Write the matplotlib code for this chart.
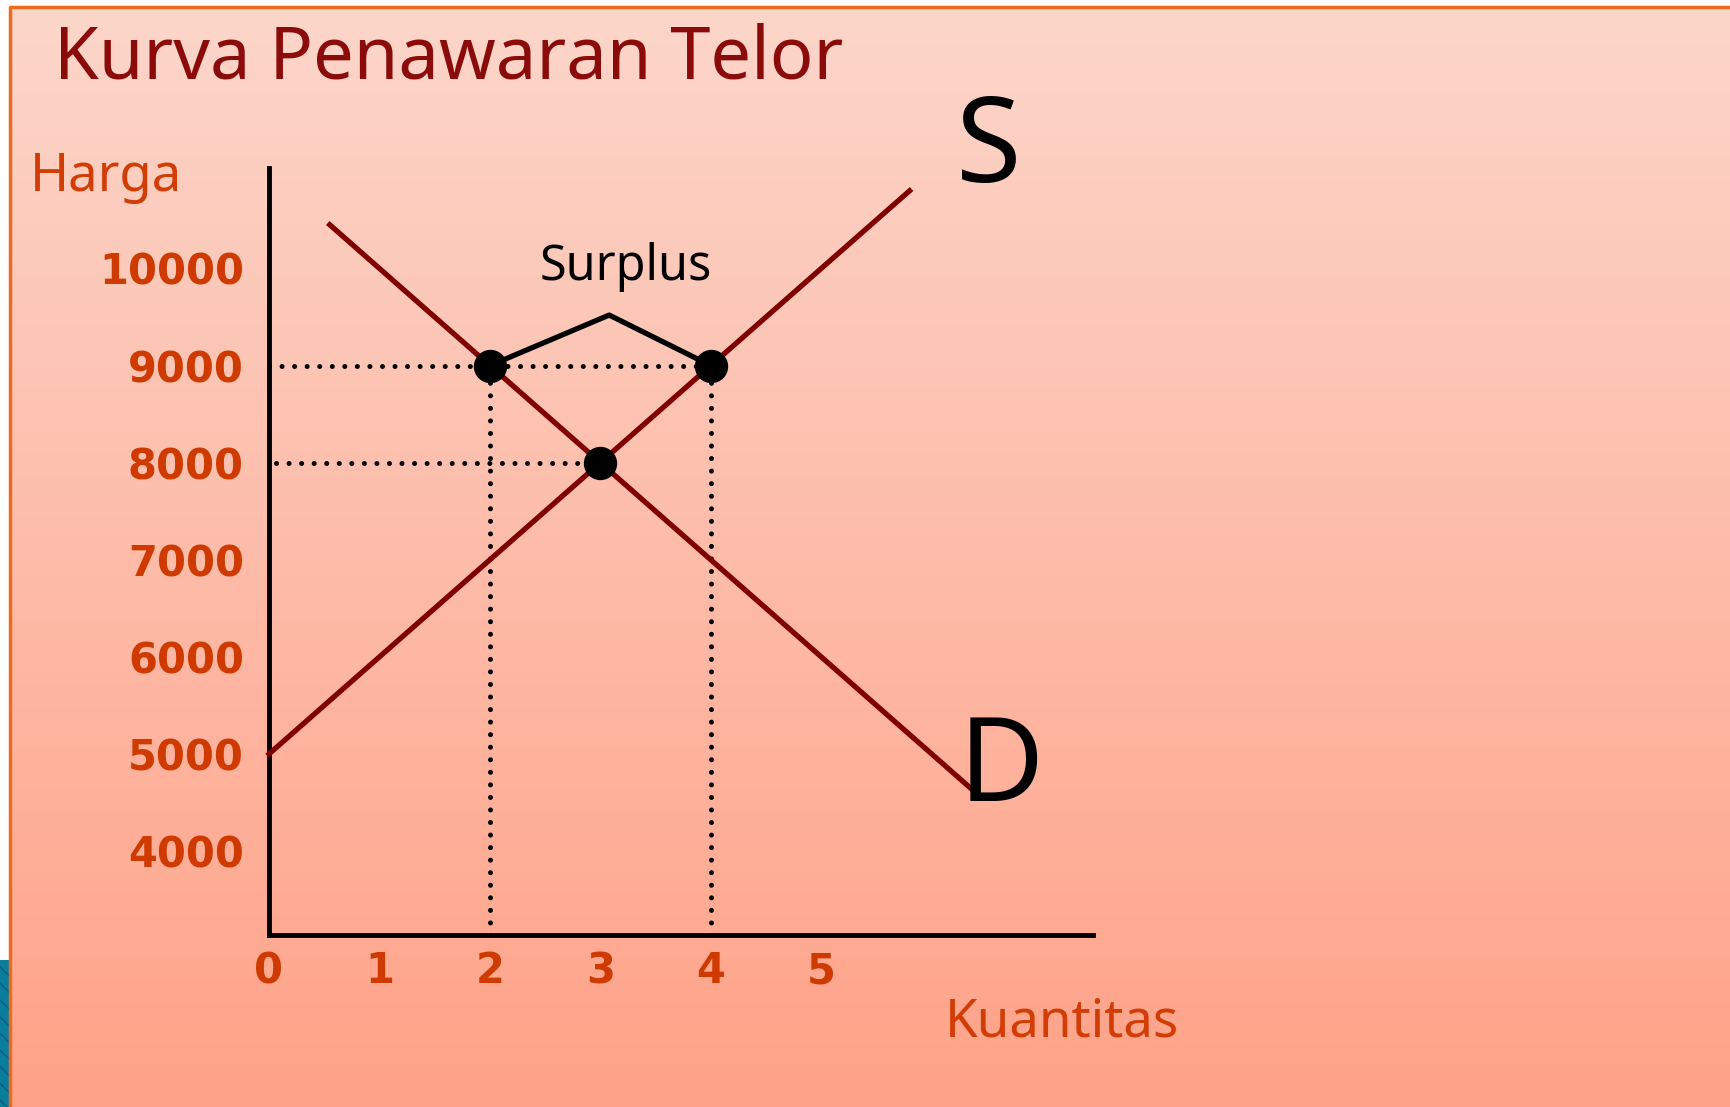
import numpy as np
import matplotlib
matplotlib.use("Agg")
import matplotlib.pyplot as plt
from matplotlib.patches import Rectangle

# Data
harga_ticks = [4000, 5000, 6000, 7000, 8000, 9000, 10000]
kuantitas_ticks = [0, 1, 2, 3, 4, 5]

supply_q = [0, 5.8]
supply_p = [5000, 10800]
demand_q = [0.55, 6.4]
demand_p = [10450, 4600]

# points: surplus at 9000 (Qd=2, Qs=4), equilibrium at 8000 (Q=3)
surplus_price = 9000
surplus_qd = 2
surplus_qs = 4
eq_q = 3
eq_p = 8000
bracket_q = [2, 3.08, 4]
bracket_p = [9000, 9520, 9000]

W, H = 1731, 1107
fig = plt.figure(figsize=(W / 100, H / 100), dpi=100)
fig.patch.set_facecolor("white")

# slide background with vertical gradient
bg = fig.add_axes([0, 0, 1, 1], zorder=0)
grad = np.linspace(0, 1, 256).reshape(-1, 1)
top = np.array([252, 214, 202]) / 255
bot = np.array([255, 162, 136]) / 255
img = top + (bot - top) * grad[..., None]
img = img.reshape(256, 1, 3)
bg.imshow(img, extent=[11, W, H, 8], aspect="auto")
bg.add_patch(Rectangle((0, 960), 10, H - 960, facecolor="#0a7d9c",
                       edgecolor="#0b5f78", hatch="\\\\", lw=0))
bg.plot([10, 10, W], [H, 7, 7], color="#ee6a1f", lw=2.5, solid_capstyle="butt")
bg.set_xlim(0, W)
bg.set_ylim(H, 0)
bg.axis("off")

fig.text(0.031, 0.946, "Kurva Penawaran Telor", fontsize=52, color="#8b0a0a",
         family="Noto Sans", va="center", ha="left")
fig.text(0.017, 0.840, "Harga", fontsize=38, color="#d23c05",
         family="Noto Sans", va="center", ha="left")
fig.text(0.546, 0.076, "Kuantitas", fontsize=38, color="#d23c05",
         family="Noto Sans", va="center", ha="left")

ax = fig.add_axes([0.1554, 0.1554, 0.476, 0.6928], zorder=1)
ax.patch.set_alpha(0)
ax.set_xlim(0, 7.46)
ax.set_ylim(3136, 11034)
for s in ["top", "right"]:
    ax.spines[s].set_visible(False)
for s in ["left", "bottom"]:
    ax.spines[s].set_linewidth(3.5)
    ax.spines[s].set_color("black")
ax.set_yticks(harga_ticks)
ax.set_xticks(kuantitas_ticks)
ax.tick_params(length=0, labelsize=30, labelcolor="#cf3a00",
               labelfontfamily="DejaVu Sans")
ax.tick_params(axis="y", pad=18)
ax.tick_params(axis="x", pad=11)
for lab in ax.get_xticklabels() + ax.get_yticklabels():
    lab.set_fontweight("bold")

dot = dict(color="black", lw=3.6, linestyle=(0, (0.01, 2.5)),
           dash_capstyle="round", zorder=2)
ax.plot([0, surplus_qs], [surplus_price, surplus_price], **dot)
ax.plot([0.06, eq_q], [eq_p, eq_p], **dot)
ax.plot([surplus_qd, surplus_qd], [ax.get_ylim()[0], surplus_price], **dot)
ax.plot([surplus_qs, surplus_qs], [ax.get_ylim()[0], surplus_price], **dot)

ax.plot(supply_q, supply_p, color="#800000", lw=3.8, zorder=3, clip_on=False)
ax.plot(demand_q, demand_p, color="#800000", lw=3.8, zorder=3, clip_on=False)
ax.plot(bracket_q, bracket_p, color="black", lw=3.8, zorder=4)
ax.plot([surplus_qd, surplus_qs, eq_q], [surplus_price, surplus_price, eq_p],
        "o", color="black", markersize=23, zorder=5)

ax.text(3.23, 10020, "Surplus", fontsize=35, family="Noto Sans", ha="center", va="center")
ax.text(6.52, 11200, "S", fontsize=86, family="Noto Sans", ha="center", va="center", clip_on=False)
ax.text(6.63, 4830, "D", fontsize=84, family="Noto Sans", ha="center", va="center", clip_on=False)

fig.savefig("out.png", dpi=100)
